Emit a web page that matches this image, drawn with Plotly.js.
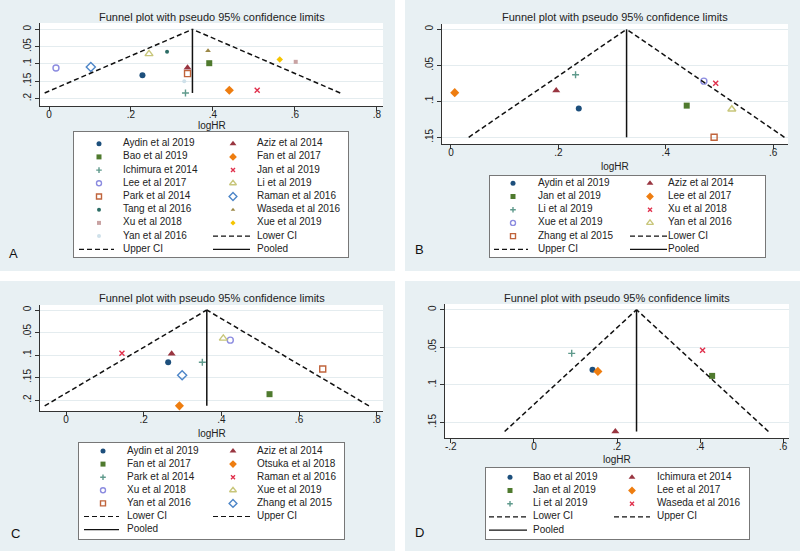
<!DOCTYPE html>
<html>
<head>
<meta charset="utf-8">
<script src="https://cdn.plot.ly/plotly-3.0.1.min.js"></script>
<style>
  html, body { margin: 0; padding: 0; background: #fff; }
  #myPlot { width: 800px; height: 551px; }
</style>
</head>
<body>
<div id="myPlot"></div>
<script>
// A: all studies
const aStudies = ["Aydin et al 2019", "Aziz et al 2014", "Bao et al 2019", "Fan et al 2017",
    "Ichimura et 2014", "Jan et al 2019", "Lee et al 2017", "Li et al 2019", "Park et al 2014",
    "Raman et al 2016", "Tang et al 2016", "Waseda et al 2016", "Xu et al 2018", "Xue et al 2019",
    "Yan et al 2016"];
const aLogHR = [0.228, 0.338, 0.391, 0.440, 0.333, 0.508, 0.017, 0.244, 0.338, 0.102, 0.288, 0.388, 0.602, 0.563, 0.330];
const aSE = [0.133, 0.111, 0.098, 0.176, 0.184, 0.176, 0.112, 0.071, 0.128, 0.109, 0.065, 0.062, 0.094, 0.087, 0.150];
const aPooled = 0.350;

// B
const bStudies = ["Aydin et al 2019", "Aziz et al 2014", "Jan et al 2019", "Lee et al 2017",
    "Li et al 2019", "Xu et al 2018", "Xue et al 2019", "Yan et al 2016", "Zhang et al 2015"];
const bLogHR = [0.238, 0.196, 0.439, 0.007, 0.232, 0.493, 0.471, 0.523, 0.490];
const bSE = [0.110, 0.085, 0.106, 0.088, 0.063, 0.075, 0.072, 0.111, 0.150];
const bPooled = 0.327;

// C
const cStudies = ["Aydin et al 2019", "Aziz et al 2014", "Fan et al 2017", "Otsuka et al 2018",
    "Park et al 2014", "Raman et al 2016", "Xu et al 2018", "Xue et al 2019", "Yan et al 2016",
    "Zhang et al 2015"];
const cLogHR = [0.263, 0.272, 0.524, 0.292, 0.351, 0.144, 0.423, 0.405, 0.661, 0.299];
const cSE = [0.116, 0.097, 0.187, 0.213, 0.116, 0.096, 0.067, 0.063, 0.131, 0.145];
const cPooled = 0.3625;

// D
const dStudies = ["Bao et al 2019", "Ichimura et 2014", "Jan et al 2019", "Lee et al 2017",
    "Li et al 2019", "Waseda et al 2016"];
const dLogHR = [0.141, 0.196, 0.429, 0.154, 0.091, 0.406];
const dSE = [0.080, 0.162, 0.088, 0.082, 0.058, 0.054];
const dPooled = 0.247;

const W = 800, H = 551;
const FONT = "Liberation Sans, Arial, sans-serif";

// stata s2color marker order
const palette = [
    { symbol: "circle", color: "#1d4f7c", size: 6 },
    { symbol: "triangle-up", color: "#993540", size: 7 },
    { symbol: "square", color: "#4f7a2e", size: 6 },
    { symbol: "diamond", color: "#ee7d10", size: 7 },
    { symbol: "cross-thin-open", color: "#5f9a8c", size: 5 },
    { symbol: "x-thin-open", color: "#e0304c", size: 5 },
    { symbol: "circle-open", color: "#8c8ce0", size: 6 },
    { symbol: "triangle-up-open", color: "#c8c67a", size: 7 },
    { symbol: "square-open", color: "#c0643c", size: 6 },
    { symbol: "diamond-open", color: "#4e86c8", size: 7 },
    { symbol: "circle", color: "#2d6d66", size: 4 },
    { symbol: "triangle-up", color: "#9c8847", size: 5 },
    { symbol: "square", color: "#c9a3a3", size: 4 },
    { symbol: "diamond", color: "#f5c400", size: 5 },
    { symbol: "circle", color: "#cfe1ea", size: 4 }
];

function markerFor(i) {
    const p = palette[i];
    const open = p.symbol.indexOf("open") >= 0;
    return {
        symbol: p.symbol, color: p.color, size: p.size,
        line: open ? { color: p.color, width: 1.4 } : { width: 0 }
    };
}

const panels = [
    { letter: "A", studies: aStudies, x: aLogHR, se: aSE, pooled: aPooled,
      box: { l: 40, r: 383, t: 23, b: 106 }, xr: [-0.022, 0.815], yr: [0.2217, -0.0182],
      xt: [0, 0.2, 0.4, 0.6, 0.8], yt: [0, 0.05, 0.1, 0.15, 0.2],
      titleY: 17, axTitleY: 126, letter_xy: [7, 253],
      leg: { l: 74, t: 132, r: 348, b: 257, row0: 11.7, step: 13.2, sym: [25, 159], txt: [49, 183], sw: [[5, 40], [139, 176]] } },
    { letter: "B", studies: bStudies, x: bLogHR, se: bSE, pooled: bPooled,
      box: { l: 442, r: 788, t: 24, b: 144 }, xr: [-0.0167, 0.6276], yr: [0.1593, -0.0074],
      xt: [0, 0.2, 0.4, 0.6], yt: [0, 0.05, 0.1, 0.15],
      titleY: 17, axTitleY: 166, letter_xy: [413, 250],
      leg: { l: 490, t: 176, r: 765, b: 257, row0: 7.3, step: 13.2, sym: [23, 160], txt: [48, 178], sw: [[4, 38], [140, 177]] } },
    { letter: "C", studies: cStudies, x: cLogHR, se: cSE, pooled: cPooled,
      box: { l: 40, r: 383, t: 305, b: 411 }, xr: [-0.067, 0.8162], yr: [0.2244, -0.0111],
      xt: [0, 0.2, 0.4, 0.6, 0.8], yt: [0, 0.05, 0.1, 0.15, 0.2],
      titleY: 298, axTitleY: 433, letter_xy: [9, 533],
      leg: { l: 79, t: 443, r: 344, b: 539, row0: 8, step: 13.1, sym: [24, 154], txt: [48, 178], sw: [[5, 40], [134, 172]] } },
    { letter: "D", studies: dStudies, x: dLogHR, se: dSE, pooled: dPooled,
      box: { l: 445, r: 789, t: 304, b: 438 }, xr: [-0.214, 0.614], yr: [0.1706, -0.0076],
      xt: [-0.2, 0, 0.2, 0.4, 0.6], yt: [0, 0.05, 0.1, 0.15],
      titleY: 298, axTitleY: 459, letter_xy: [413, 532],
      leg: { l: 486, t: 468, r: 749, b: 539, row0: 9.3, step: 13.2, sym: [24, 146], txt: [47, 171], sw: [[3, 41], [128, 164]] } }
];

function tickText(v) {
    if (v === 0) return "0";
    return String(v).replace("0.", ".");
}

const data = [];
const layout = {
    width: W, height: H,
    margin: { l: 0, r: 0, t: 0, b: 0 },
    paper_bgcolor: "#e8f0f3",
    plot_bgcolor: "#ffffff",
    font: { family: FONT, size: 10, color: "#222" },
    showlegend: false,
    annotations: [],
    shapes: [
        { type: "rect", xref: "paper", yref: "paper", x0: 395 / W, x1: 405 / W, y0: 0, y1: 1,
          fillcolor: "#ffffff", line: { width: 0 }, layer: "below" },
        { type: "rect", xref: "paper", yref: "paper", x0: 0, x1: 1, y0: 1 - 281 / H, y1: 1 - 271 / H,
          fillcolor: "#ffffff", line: { width: 0 }, layer: "below" }
    ]
};

const dashCI = "5px,3px";

panels.forEach(function (p, k) {
    const n = k + 1, m = k + 5;
    const xa = "x" + n, ya = "y" + n;
    const seMax = Math.max(...p.se);

    // studies
    p.studies.forEach(function (name, i) {
        data.push({
            x: [p.x[i]], y: [p.se[i]], type: "scatter", mode: "markers",
            xaxis: xa, yaxis: ya, marker: markerFor(i), hoverinfo: "skip"
        });
    });
    // lower / upper CI, pooled
    data.push({ x: [p.pooled - 1.96 * seMax, p.pooled], y: [seMax, 0], mode: "lines", xaxis: xa, yaxis: ya,
        line: { color: "#111", width: 1.5, dash: dashCI }, hoverinfo: "skip" });
    data.push({ x: [p.pooled + 1.96 * seMax, p.pooled], y: [seMax, 0], mode: "lines", xaxis: xa, yaxis: ya,
        line: { color: "#111", width: 1.5, dash: dashCI }, hoverinfo: "skip" });
    data.push({ x: [p.pooled, p.pooled], y: [0, seMax], mode: "lines", xaxis: xa, yaxis: ya,
        line: { color: "#111", width: 1.5 }, hoverinfo: "skip" });

    layout["xaxis" + n] = {
        domain: [p.box.l / W, p.box.r / W], range: p.xr, anchor: ya,
        tickvals: p.xt, ticktext: p.xt.map(tickText), ticklabelstandoff: -5,
        showline: true, linecolor: "#333", linewidth: 1, ticks: "outside", ticklen: 4, tickcolor: "#333",
        showgrid: false, zeroline: false, tickfont: { size: 10, color: "#222" }
    };
    layout["yaxis" + n] = {
        domain: [1 - p.box.b / H, 1 - p.box.t / H], range: p.yr, anchor: xa,
        tickvals: p.yt, ticktext: p.yt.map(tickText), tickangle: -90,
        showline: true, linecolor: "#333", linewidth: 1, ticks: "outside", ticklen: 4, tickcolor: "#333",
        showgrid: true, gridcolor: "#e4ecef", gridwidth: 1, zeroline: false, tickfont: { size: 10, color: "#222" }
    };

    const cx = (p.box.l + p.box.r) / 2;
    layout.annotations.push(
        { text: "Funnel plot with pseudo 95% confidence limits", xref: "paper", yref: "paper",
          x: cx / W, y: 1 - p.titleY / H, xanchor: "center", yanchor: "middle", showarrow: false,
          font: { size: 11, color: "#222" } },
        { text: "logHR", xref: "paper", yref: "paper", x: cx / W, y: 1 - p.axTitleY / H,
          xanchor: "center", yanchor: "middle", showarrow: false, font: { size: 10, color: "#222" } },
        { text: p.letter, xref: "paper", yref: "paper", x: p.letter_xy[0] / W, y: 1 - p.letter_xy[1] / H,
          xanchor: "left", yanchor: "middle", showarrow: false, font: { size: 13, color: "#111" } }
    );

    // legend box drawn on its own axes
    const L = p.leg;
    const lx = "x" + m, ly = "y" + m;
    layout["xaxis" + m] = {
        domain: [L.l / W, L.r / W], range: [0, L.r - L.l], anchor: ly,
        showline: true, mirror: true, linecolor: "#777", linewidth: 1,
        showgrid: false, zeroline: false, showticklabels: false, ticks: "", fixedrange: true
    };
    layout["yaxis" + m] = {
        domain: [1 - L.b / H, 1 - L.t / H], range: [L.b - L.t, 0], anchor: lx,
        showline: true, mirror: true, linecolor: "#777", linewidth: 1,
        showgrid: false, zeroline: false, showticklabels: false, ticks: "", fixedrange: true
    };

    const items = p.studies.map(function (s, i) { return { name: s, mark: i }; })
        .concat([{ name: "Lower CI", dash: dashCI }, { name: "Upper CI", dash: dashCI }, { name: "Pooled", dash: "solid" }]);
    const tx = [], ty = [], tt = [];
    items.forEach(function (it, idx) {
        const col = idx % 2, row = Math.floor(idx / 2);
        const yy = L.row0 + row * L.step;
        if (it.mark !== undefined) {
            const mk = markerFor(it.mark);
            mk.size = Math.max(mk.size - 1, 4);
            data.push({ x: [L.sym[col]], y: [yy], mode: "markers", xaxis: lx, yaxis: ly,
                marker: mk, hoverinfo: "skip" });
        } else {
            data.push({ x: [L.sw[col][0], L.sw[col][1]], y: [yy, yy], mode: "lines", xaxis: lx, yaxis: ly,
                line: { color: "#111", width: 1.2, dash: it.dash }, hoverinfo: "skip" });
        }
        tx.push(L.txt[col]); ty.push(yy); tt.push(it.name);
    });
    data.push({ x: tx, y: ty, text: tt, mode: "text", textposition: "middle right", xaxis: lx, yaxis: ly,
        textfont: { size: 10, color: "#222", family: FONT }, hoverinfo: "skip" });
});

Plotly.newPlot("myPlot", data, layout, { staticPlot: true });
</script>
</body>
</html>
